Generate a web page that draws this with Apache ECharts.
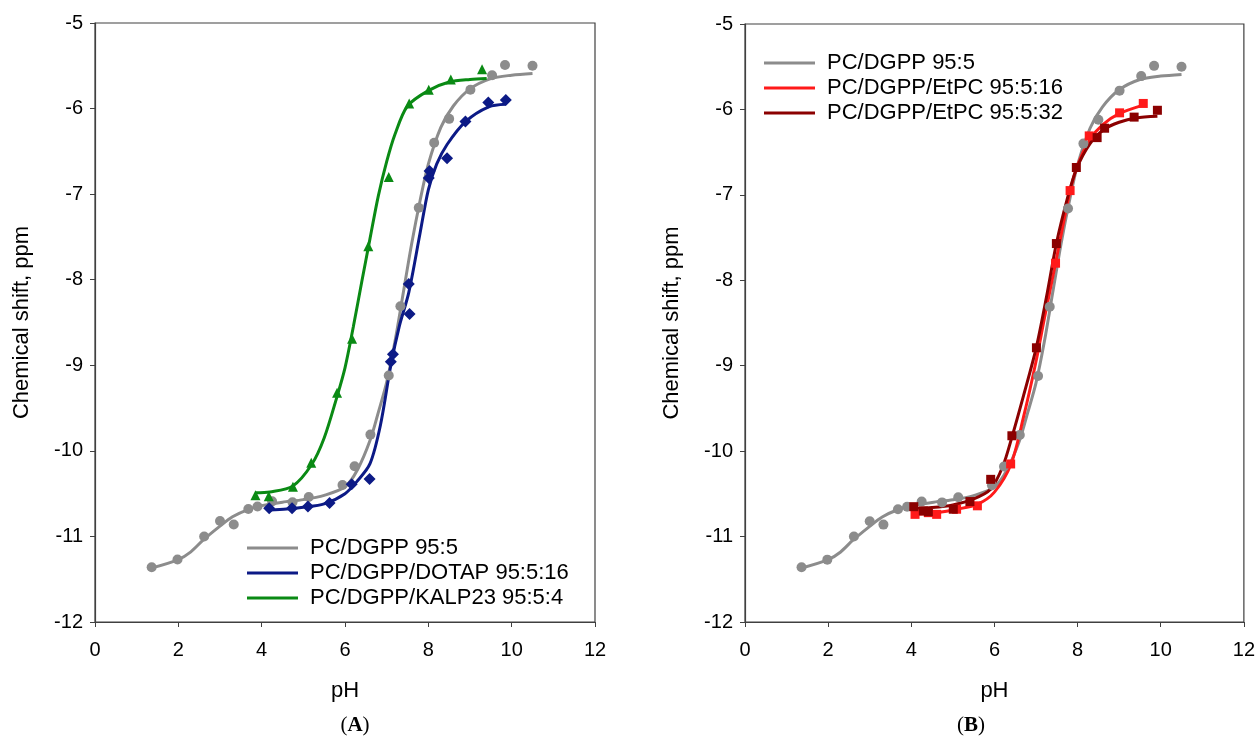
<!DOCTYPE html>
<html>
<head>
<meta charset="utf-8">
<script src="https://cdn.jsdelivr.net/npm/echarts@6/dist/echarts.min.js"></script>
<style>
html,body{margin:0;padding:0;background:#fff;}
#chart{width:1258px;height:742px;}
</style>
</head>
<body>
<div id="chart"></div>
<script>
// ---- axis ticks ----
const xTicks = [0, 2, 4, 6, 8, 10, 12];
const yTicks = [-12, -11, -10, -9, -8, -7, -6, -5];

// ---- series names ----
const nameGray = 'PC/DGPP 95:5';
const nameBlue = 'PC/DGPP/DOTAP 95:5:16';
const nameGreen = 'PC/DGPP/KALP23 95:5:4';
const nameRed = 'PC/DGPP/EtPC 95:5:16';
const nameDark = 'PC/DGPP/EtPC 95:5:32';

// ---- measured points ----
const grayX = [1.36,1.98,2.62,3.00,3.33,3.68,3.90,4.25,4.74,5.13,5.94,6.23,6.61,7.05,7.33,7.77,8.14,8.50,9.01,9.53,9.84,10.50];
const grayY = [-11.36,-11.27,-11.00,-10.82,-10.86,-10.68,-10.65,-10.59,-10.60,-10.54,-10.40,-10.18,-9.81,-9.12,-8.31,-7.16,-6.40,-6.12,-5.78,-5.61,-5.49,-5.50];

const blueX = [4.18,4.73,5.11,5.63,6.16,6.59,7.10,7.15,7.55,7.53,8.01,8.03,8.45,8.89,9.44,9.86];
const blueY = [-10.67,-10.67,-10.65,-10.61,-10.39,-10.33,-8.96,-8.87,-8.40,-8.05,-6.81,-6.73,-6.58,-6.15,-5.93,-5.90];

const greenX = [3.85,4.17,4.75,5.19,5.81,6.17,6.56,7.05,7.54,8.01,8.54,9.29];
const greenY = [-10.52,-10.53,-10.42,-10.14,-9.32,-8.69,-7.61,-6.80,-5.94,-5.78,-5.66,-5.54];

const redX = [4.09,4.41,4.61,5.09,5.59,6.39,7.47,7.82,8.28,9.01,9.58];
const redY = [-10.74,-10.72,-10.74,-10.68,-10.64,-10.15,-7.80,-6.95,-6.31,-6.04,-5.93];

const darkX = [4.06,4.29,4.41,5.01,5.41,5.91,6.42,7.01,7.49,7.97,8.47,8.65,9.36,9.92];
const darkY = [-10.65,-10.70,-10.71,-10.68,-10.59,-10.33,-9.82,-8.79,-7.57,-6.68,-6.33,-6.22,-6.09,-6.01];

// ---- fitted curves ----
const grayFitX = [1.35,2.0,2.3,2.6,3.0,3.3,3.7,4.0,4.5,5.0,5.5,6.0,6.3,6.6,6.8,7.0,7.2,7.4,7.6,7.8,8.0,8.3,8.6,9.0,9.5,10.0,10.5];
const grayFitY = [-11.37,-11.27,-11.18,-11.04,-10.88,-10.77,-10.68,-10.64,-10.60,-10.57,-10.52,-10.42,-10.22,-9.88,-9.55,-9.20,-8.72,-8.15,-7.58,-7.08,-6.65,-6.22,-5.97,-5.77,-5.65,-5.61,-5.59];

const blueFitX = [4.18,4.6,5.0,5.5,6.0,6.3,6.6,6.85,7.1,7.3,7.53,7.8,8.0,8.2,8.45,8.9,9.45,9.86];
const blueFitY = [-10.69,-10.68,-10.66,-10.62,-10.50,-10.35,-10.15,-9.70,-9.00,-8.55,-8.15,-7.46,-6.95,-6.65,-6.42,-6.15,-5.98,-5.95];

const greenFitX = [3.85,4.2,4.75,5.2,5.5,5.8,6.0,6.2,6.4,6.6,6.8,7.0,7.2,7.5,8.0,8.5,9.0,9.4];
const greenFitY = [-10.49,-10.48,-10.41,-10.16,-9.85,-9.38,-9.03,-8.55,-8.03,-7.52,-7.02,-6.62,-6.30,-5.97,-5.79,-5.69,-5.66,-5.65];

const redFitX = [4.09,4.6,5.1,5.6,6.0,6.4,6.7,7.0,7.2,7.47,7.8,8.0,8.3,8.6,9.0,9.58];
const redFitY = [-10.74,-10.72,-10.68,-10.62,-10.48,-10.15,-9.60,-8.95,-8.45,-7.80,-7.00,-6.65,-6.35,-6.18,-6.05,-5.95];

const darkFitX = [4.06,4.5,5.0,5.5,5.9,6.2,6.43,6.7,7.0,7.25,7.49,7.75,7.97,8.3,8.65,9.0,9.4,9.92];
const darkFitY = [-10.67,-10.66,-10.63,-10.56,-10.45,-10.18,-9.82,-9.35,-8.80,-8.20,-7.57,-7.05,-6.70,-6.40,-6.23,-6.15,-6.10,-6.08];

const cGray = '#8c8c8c', cBlue = '#0c1a86', cGreen = '#0a8a14', cRed = '#ff1a1a', cDark = '#8b0000';

function pairs(xs, ys) { return xs.map((x, i) => [x, ys[i]]); }

const SANS = 'Liberation Sans, Arial, sans-serif';
const SERIF = 'Liberation Serif, Times New Roman, serif';
const labelFont = {color: '#000', fontFamily: SANS, fontSize: 20};

function xAxis(gi) {
  return {
    gridIndex: gi, type: 'value', min: xTicks[0], max: xTicks[xTicks.length - 1], interval: 2,
    name: 'pH', nameLocation: 'middle', nameGap: 58,
    nameTextStyle: {color: '#000', fontFamily: SANS, fontSize: 22},
    axisLine: {show: true, lineStyle: {color: '#404040', width: 1.2}},
    axisTick: {show: true, length: 5, lineStyle: {color: '#404040'}},
    axisLabel: Object.assign({margin: 18}, labelFont),
    splitLine: {show: false}
  };
}
function yAxis(gi) {
  return {
    gridIndex: gi, type: 'value', min: yTicks[0], max: yTicks[yTicks.length - 1], interval: 1,
    name: 'Chemical shift, ppm', nameLocation: 'middle', nameGap: 62,
    nameTextStyle: {color: '#000', fontFamily: SANS, fontSize: 22},
    axisLine: {show: true, lineStyle: {color: '#404040', width: 1.2}},
    axisTick: {show: true, length: 5, lineStyle: {color: '#404040'}},
    axisLabel: Object.assign({margin: 12}, labelFont),
    splitLine: {show: false}
  };
}

function fit(name, gi, xs, ys, color) {
  return {
    name: name, type: 'line', xAxisIndex: gi, yAxisIndex: gi,
    data: pairs(xs, ys), smooth: 0.3, showSymbol: false, symbol: 'none',
    lineStyle: {color: color, width: 3}, itemStyle: {color: color}, z: 3, silent: true
  };
}
function pts(name, gi, xs, ys, color, symbol, size) {
  return {
    name: name + ' (data)', type: 'scatter', xAxisIndex: gi, yAxisIndex: gi,
    data: pairs(xs, ys), symbol: symbol, symbolSize: size,
    itemStyle: {color: color, opacity: 1}, z: 4
  };
}

const legendText = {color: '#000', fontFamily: SANS, fontSize: 22, lineHeight: 22, padding: [0, 0, 0, 7]};

const option = {
  backgroundColor: '#fff',
  animation: false,
  title: [
    {text: '({b|A})', left: 350, top: 710, textAlign: 'center',
     textStyle: {color: '#000', fontFamily: SERIF, fontSize: 21, fontWeight: 'normal',
       rich: {b: {fontFamily: SERIF, fontSize: 21, fontWeight: 'bold', color: '#000'}}}},
    {text: '({b|B})', left: 966, top: 710, textAlign: 'center',
     textStyle: {color: '#000', fontFamily: SERIF, fontSize: 21, fontWeight: 'normal',
       rich: {b: {fontFamily: SERIF, fontSize: 21, fontWeight: 'bold', color: '#000'}}}}
  ],
  grid: [
    {left: 95, top: 23, width: 500, height: 599, show: true, borderColor: '#404040', borderWidth: 1.2, backgroundColor: 'transparent'},
    {left: 745, top: 24, width: 499, height: 598, show: true, borderColor: '#404040', borderWidth: 1.2, backgroundColor: 'transparent'}
  ],
  legend: [
    {orient: 'vertical', left: 247, top: 537, padding: 0, itemWidth: 51, itemHeight: 3, itemGap: 3, icon: 'rect',
     data: [nameGray, nameBlue, nameGreen], textStyle: legendText, selectedMode: false},
    {orient: 'vertical', left: 764, top: 52, padding: 0, itemWidth: 51, itemHeight: 3, itemGap: 3, icon: 'rect',
     data: [nameGray, nameRed, nameDark], textStyle: legendText, selectedMode: false}
  ],
  xAxis: [xAxis(0), xAxis(1)],
  yAxis: [yAxis(0), yAxis(1)],
  series: [
    fit(nameGray, 0, grayFitX, grayFitY, cGray),
    fit(nameBlue, 0, blueFitX, blueFitY, cBlue),
    fit(nameGreen, 0, greenFitX, greenFitY, cGreen),
    pts(nameGray, 0, grayX, grayY, cGray, 'circle', 10),
    pts(nameBlue, 0, blueX, blueY, cBlue, 'diamond', 12),
    pts(nameGreen, 0, greenX, greenY, cGreen, 'triangle', 10),

    fit(nameGray, 1, grayFitX, grayFitY, cGray),
    fit(nameRed, 1, redFitX, redFitY, cRed),
    fit(nameDark, 1, darkFitX, darkFitY, cDark),
    pts(nameGray, 1, grayX, grayY, cGray, 'circle', 10),
    pts(nameRed, 1, redX, redY, cRed, 'rect', 9),
    pts(nameDark, 1, darkX, darkY, cDark, 'rect', 9)
  ]
};

const chart = echarts.init(document.getElementById('chart'), null, {renderer: 'canvas'});
chart.setOption(option);
</script>
</body>
</html>
